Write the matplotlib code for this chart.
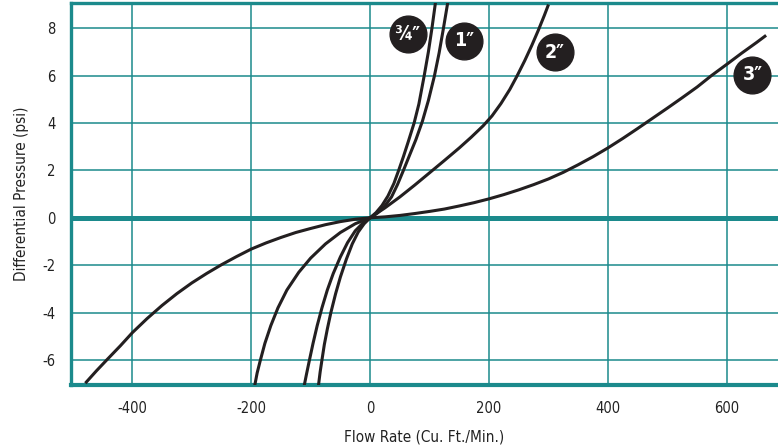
import matplotlib
matplotlib.use("Agg")
import matplotlib.pyplot as plt

plt.rcParams['font.family'] = ['DejaVu Sans']
plt.rcParams['font.stretch'] = 'condensed'
plt.rcParams['axes.unicode_minus'] = False

TEAL = '#1b8a8c'
INK = '#231f20'

# curves: flow (cu ft/min) vs differential pressure (psi)
x_34 = [-87, -84, -81, -77, -72, -66, -58, -50, -40, -30, -20, -10, 0,
        10, 20, 30, 40, 48, 56, 64, 74, 82, 91, 98, 104, 110]
y_34 = [-7.1, -6.5, -6.0, -5.35, -4.7, -4.0, -3.2, -2.5, -1.75, -1.1, -0.6, -0.25, 0,
        0.22, 0.52, 0.92, 1.45, 2.0, 2.58, 3.2, 4.0, 4.8, 6.0, 7.0, 8.0, 9.1]

x_1 = [-111, -107, -102, -96, -89, -81, -72, -62, -50, -38, -25, -12, 0,
       12, 24, 36, 46, 56, 66, 77, 88, 98, 108, 116, 123, 128, 132]
y_1 = [-7.1, -6.6, -6.0, -5.3, -4.55, -3.8, -3.05, -2.35, -1.65, -1.05, -0.55, -0.22, 0,
       0.2, 0.48, 0.88, 1.4, 2.0, 2.62, 3.3, 4.08, 4.95, 5.97, 6.95, 7.95, 8.7, 9.3]

x_2 = [-194, -190, -185, -177, -167, -155, -140, -120, -100, -75, -50, -25, 0,
       25, 50, 75, 100, 125, 150, 170, 190, 205, 220, 235, 247, 260, 272, 283, 293, 300]
y_2 = [-7.07, -6.55, -6.05, -5.3, -4.55, -3.8, -3.05, -2.3, -1.7, -1.1, -0.62, -0.25, 0,
       0.42, 0.88, 1.38, 1.9, 2.42, 2.95, 3.4, 3.88, 4.3, 4.82, 5.42, 5.98, 6.63, 7.28, 7.92, 8.54, 9.0]

x_3 = [-479, -460, -443, -420, -400, -375, -350, -325, -300, -275, -250, -225, -200,
       -175, -150, -125, -100, -75, -50, -25, 0, 25, 50, 75, 100, 125, 150, 175, 200,
       225, 250, 275, 300, 325, 350, 375, 400, 425, 450, 475, 500, 525, 550, 574,
       600, 625, 650, 666]
y_3 = [-6.98, -6.45, -6.0, -5.4, -4.85, -4.25, -3.7, -3.2, -2.75, -2.35, -1.98, -1.64, -1.32,
       -1.06, -0.83, -0.62, -0.45, -0.29, -0.16, -0.06, 0, 0.04, 0.1, 0.18, 0.27, 0.37, 0.5, 0.64, 0.8,
       0.98, 1.18, 1.4, 1.64, 1.92, 2.24, 2.58, 2.95, 3.35, 3.77, 4.2, 4.63, 5.07, 5.52, 6.0,
       6.48, 6.95, 7.4, 7.7]

labels = ['\u00be\u2033', '1\u2033', '2\u2033', '3\u2033']
label_x = [63, 158, 311, 643]
label_y = [7.75, 7.47, 6.98, 6.03]

x_ticks = [-400, -200, 0, 200, 400, 600]
y_ticks = [-6, -4, -2, 0, 2, 4, 6, 8]

fig = plt.figure(figsize=(7.78, 4.46), dpi=100)
ax = fig.add_axes([0.0913, 0.136, 0.9087, 0.857])

ax.set_xlim(-503, 686)
ax.set_ylim(-7.07, 9.06)

ax.set_xticks(x_ticks)
ax.set_yticks(y_ticks)
ax.tick_params(length=0, pad=11, labelsize=10.5, colors='#222222')
ax.grid(True, color=TEAL, linewidth=1.1)
ax.set_axisbelow(True)
ax.axhline(0, color=TEAL, linewidth=3.6, zorder=1)

for side in ['left', 'top', 'bottom']:
    ax.spines[side].set_color(TEAL)
    ax.spines[side].set_linewidth(2.4)
ax.spines['bottom'].set_linewidth(3.0)
ax.spines['right'].set_visible(False)

for xs, ys in [(x_34, y_34), (x_1, y_1), (x_2, y_2), (x_3, y_3)]:
    ax.plot(xs, ys, color=INK, linewidth=2.2, solid_capstyle='butt',
            solid_joinstyle='round', zorder=3)

ax.scatter(label_x, label_y, s=700, color=INK, zorder=4, clip_on=False)
for lab, lx, ly in zip(labels, label_x, label_y):
    ax.text(lx, ly, lab, color='white', fontsize=14, fontweight='bold',
            ha='center', va='center', zorder=5)

ax.set_xlabel('Flow Rate (Cu. Ft./Min.)', fontsize=11, color='#222222', labelpad=10)
ax.set_ylabel('Differential Pressure (psi)', fontsize=11, color='#222222', labelpad=10)

fig.savefig('out.png', dpi=100)
